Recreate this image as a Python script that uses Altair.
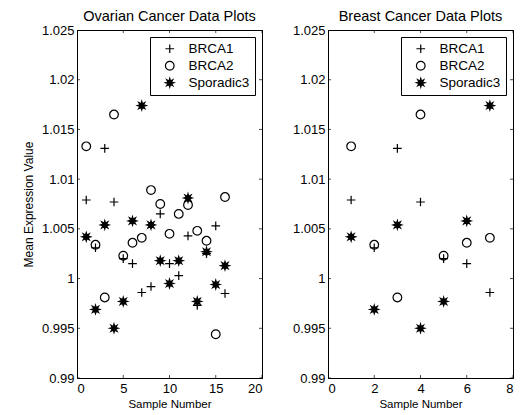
import altair as alt
import pandas as pd

SERIES = ["BRCA1", "BRCA2", "Sporadic3"]

ovarian_samples = list(range(1, 17))
ovarian_brca1 = [1.0079, 1.0031, 1.0131, 1.0077, 1.0020, 1.0015, 0.9986, 0.9992,
                 1.0065, 1.0015, 1.0003, 1.0043, 0.9973, 1.0025, 1.0053, 0.9985]
ovarian_brca2 = [1.0133, 1.0034, 0.9981, 1.0165, 1.0023, 1.0036, 1.0041, 1.0089,
                 1.0075, 1.0045, 1.0065, 1.0074, 1.0048, 1.0038, 0.9944, 1.0082]
ovarian_sporadic3 = [1.0042, 0.9969, 1.0054, 0.9950, 0.9977, 1.0058, 1.0174, 1.0054,
                     1.0018, 0.9995, 1.0018, 1.0081, 0.9977, 1.0027, 0.9994, 1.0013]

breast_samples = list(range(1, 8))
breast_brca1 = [1.0079, 1.0031, 1.0131, 1.0077, 1.0020, 1.0015, 0.9986]
breast_brca2 = [1.0133, 1.0034, 0.9981, 1.0165, 1.0023, 1.0036, 1.0041]
breast_sporadic3 = [1.0042, 0.9969, 1.0054, 0.9950, 0.9977, 1.0058, 1.0174]

y_ticks = [0.99, 0.995, 1.0, 1.005, 1.01, 1.015, 1.02, 1.025]
ovarian_x_ticks = [0, 5, 10, 15, 20]
breast_x_ticks = [0, 2, 4, 6, 8]

FONT = "Liberation Sans"
PLUS = "M-1,0L1,0M0,-1L0,1"
STAR = ("M1,0L0.42,0.174L0.707,0.707L0.174,0.42L0,1L-0.174,0.42L-0.707,0.707"
        "L-0.42,0.174L-1,0L-0.42,-0.174L-0.707,-0.707L-0.174,-0.42L0,-1"
        "L0.174,-0.42L0.707,-0.707L0.42,-0.174Z")

W, H = 185, 348


def long_df(samples, b1, b2, sp):
    rows = []
    for name, vals in zip(SERIES, [b1, b2, sp]):
        for s, v in zip(samples, vals):
            rows.append({"sample": s, "value": v, "series": name})
    return pd.DataFrame(rows)


def panel(df, title, xmax, xticks, ytitle):
    xs = alt.Scale(domain=[0, xmax], nice=False, zero=False)
    ys = alt.Scale(domain=[0.99, 1.025], nice=False, zero=False)
    common = dict(ticks=False, tickSize=0, domain=True, domainColor="black",
                  domainWidth=1, grid=True, gridColor="black", gridWidth=1)
    x_bottom = alt.Axis(orient="bottom", values=xticks, title="Sample Number",
                        labelFont=FONT, labelFontSize=13, labelColor="black",
                        labelPadding=4, titleFont=FONT, titleFontSize=11.5,
                        titleFontWeight="normal", titleColor="black", titlePadding=3,
                        gridOpacity={"condition": {"test": f"datum.value >= {xmax}", "value": 1},
                                     "value": 0},
                        **common)
    ykw = dict(orient="left", values=y_ticks, format="~g", labelFont=FONT,
               labelFontSize=13, labelColor="black", labelPadding=3,
               gridOpacity={"condition": {"test": "datum.value >= 1.0249", "value": 1},
                            "value": 0},
               **common)
    if ytitle:
        ykw.update(title=ytitle, titleFont=FONT, titleFontSize=12,
                   titleFontWeight="normal", titleColor="black", titlePadding=6)
    else:
        ykw.update(title=None)
    y_left = alt.Axis(**ykw)

    legend = alt.Legend(title=None, orient="none", legendX=73, legendY=7,
                        strokeColor="black", fillColor="white", padding=5,
                        labelFont=FONT, labelFontSize=13.5, labelColor="black",
                        symbolStrokeWidth=1.2, symbolSize=75, rowPadding=2,
                        symbolOffset=8, labelOffset=12, cornerRadius=0)

    points = alt.Chart(df).mark_point(filled=True, strokeWidth=1.2,
                                      opacity=1, size=75).encode(
        x=alt.X("sample:Q", scale=xs, axis=x_bottom),
        y=alt.Y("value:Q", scale=ys, axis=y_left),
        shape=alt.Shape("series:N", scale=alt.Scale(domain=SERIES, range=[PLUS, "circle", STAR]),
                        legend=legend),
        fill=alt.Fill("series:N", scale=alt.Scale(domain=SERIES,
                                                   range=["transparent", "transparent", "black"]),
                      legend=legend),
        stroke=alt.Stroke("series:N", scale=alt.Scale(domain=SERIES,
                                                       range=["black", "black", "black"]),
                          legend=legend),
    )
    ytick_df = pd.DataFrame({"t": y_ticks})
    xtick_df = pd.DataFrame({"t": xticks})
    right_ticks = alt.Chart(ytick_df).mark_tick(orient="horizontal", size=6, thickness=1,
                                                color="black", clip=True).encode(
        y=alt.Y("t:Q", scale=ys), x=alt.value(W))
    left_ticks = alt.Chart(ytick_df).mark_tick(orient="horizontal", size=6, thickness=1,
                                               color="black", clip=True).encode(
        y=alt.Y("t:Q", scale=ys), x=alt.value(0))
    top_ticks = alt.Chart(xtick_df).mark_tick(orient="vertical", size=6, thickness=1,
                                              color="black", clip=True).encode(
        x=alt.X("t:Q", scale=xs), y=alt.value(0))
    bottom_ticks = alt.Chart(xtick_df).mark_tick(orient="vertical", size=6, thickness=1,
                                                 color="black", clip=True).encode(
        x=alt.X("t:Q", scale=xs), y=alt.value(H))
    return alt.layer(points, right_ticks, left_ticks, top_ticks, bottom_ticks).properties(
        width=W, height=H,
        title=alt.TitleParams(title, font=FONT, fontSize=14.5, fontWeight="normal",
                              color="black", frame="group", anchor="middle",
                              offset=-11, baseline="alphabetic"),
    )


left = panel(long_df(ovarian_samples, ovarian_brca1, ovarian_brca2, ovarian_sporadic3),
             "Ovarian Cancer Data Plots", 20, ovarian_x_ticks, "Mean Expression Value")
right = panel(long_df(breast_samples, breast_brca1, breast_brca2, breast_sporadic3),
              "Breast Cancer Data Plots", 8, breast_x_ticks, None)

chart = alt.hconcat(left, right, spacing=66, bounds="flush").resolve_scale(
    shape="independent", fill="independent", stroke="independent"
).resolve_legend(
    shape="independent", fill="independent", stroke="independent"
).configure_view(
    stroke="black", strokeWidth=1
).configure_legend(
    strokeColor="black", strokeWidth=1
).properties(padding={"left": 13, "top": 0, "right": 0, "bottom": 0}, background="white")

chart.save("out.html", embed_options={"renderer": "svg", "actions": False})
